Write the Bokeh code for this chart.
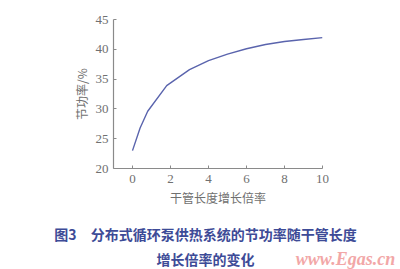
from bokeh.plotting import figure
from bokeh.layouts import column
from bokeh.models import Range1d, FixedTicker
from bokeh.core.properties import value
from bokeh.embed import file_html
from bokeh.resources import INLINE

# growth multiple of the main pipe length vs. power saving rate (%)
growth = [0, 0.4, 0.8, 1.8, 3, 4, 5, 6, 7, 8, 9, 10]
saving = [23.0, 26.8, 29.6, 33.9, 36.6, 38.1, 39.2, 40.1, 40.8, 41.3, 41.65, 41.95]
x_ticks = [0, 2, 4, 6, 8, 10]
y_ticks = [20, 25, 30, 35, 40, 45]

caption_lines = ["图3\u3000分布式循环泵供热系统的节功率随干管长度", "增长倍率的变化"]
watermark = "www.Egas.cn"

axis_gray = "#8a8a8a"
text_gray = "#707070"
caption_blue = "#3d4b97"

p = figure(width=400, height=208, output_backend="svg", toolbar_location=None,
           x_range=Range1d(-1, 10), y_range=Range1d(20, 45),
           min_border_left=113, min_border_right=78, min_border_top=19, min_border_bottom=36)
p.frame_align = False
p.background_fill_color = "white"
p.border_fill_color = "white"
p.outline_line_color = None
p.grid.grid_line_color = None

p.line(growth, saving, line_color="#5a64ad", line_width=1.4)

for ax in (p.xaxis[0], p.yaxis[0]):
    ax.axis_line_color = axis_gray
    ax.axis_line_width = 1.2
    ax.major_tick_line_color = axis_gray
    ax.major_tick_in = 3
    ax.major_tick_out = 0
    ax.minor_tick_line_color = None
    ax.major_label_text_font = "Liberation Serif"
    ax.major_label_text_font_size = "13px"
    ax.major_label_text_color = text_gray
    ax.axis_label_text_font = "Noto Sans CJK SC"
    ax.axis_label_text_font_size = "12px"
    ax.axis_label_text_font_style = "normal"
    ax.axis_label_text_color = text_gray

p.xaxis[0].ticker = FixedTicker(ticks=x_ticks)
p.yaxis[0].ticker = FixedTicker(ticks=y_ticks)
p.xaxis[0].major_label_standoff = 6
p.yaxis[0].major_label_standoff = 5
p.xaxis[0].axis_label = "干管长度增长倍率"
p.yaxis[0].axis_label = "节功率/%"
p.xaxis[0].axis_label_standoff = 3
p.yaxis[0].axis_label_standoff = 3

# caption strip under the chart (pixel-like coordinates, y pointing down)
cap = figure(width=400, height=61, output_backend="svg", toolbar_location=None,
             x_range=Range1d(0, 400), y_range=Range1d(61, 0),
             min_border=0, x_axis_type=None, y_axis_type=None)
cap.frame_align = False
cap.background_fill_color = "white"
cap.border_fill_color = "white"
cap.outline_line_color = None
cap.grid.grid_line_color = None

cap.text(x=[205, 205], y=[25, 50], text=caption_lines,
         text_font=value("Noto Sans CJK SC"), text_font_size="14px", text_font_style="bold",
         text_color=caption_blue, text_align="center", text_baseline="middle")
cap.text(x=[345], y=[50], text=[watermark],
         text_font=value("Liberation Serif"), text_font_size="18px", text_font_style="bold italic",
         text_color="#f2a7a7", text_align="center", text_baseline="middle")

layout = column(p, cap, spacing=0)
open("out.html", "w").write(file_html(layout, INLINE))
